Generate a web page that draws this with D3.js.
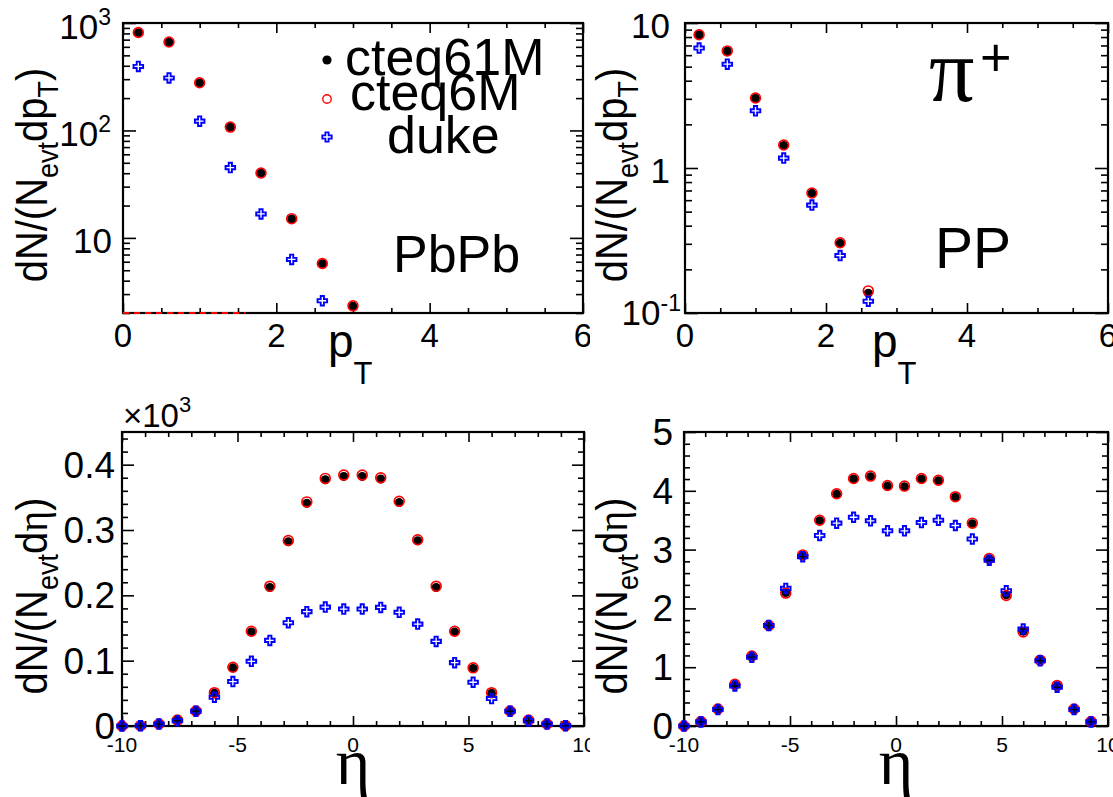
<!DOCTYPE html>
<html><head><meta charset="utf-8">
<script src="https://cdn.jsdelivr.net/npm/d3@7"></script>
<style>
body{margin:0;background:#fff;}
svg{display:block;font-family:"Liberation Sans",Arial,Helvetica,sans-serif;}
</style></head><body>
<svg id="c" width="1113" height="797"></svg>
<script>
// ---------------- data ----------------
const ptBins = [0.2, 0.6, 1.0, 1.4, 1.8, 2.2, 2.6, 3.0];
const pbpbPt_cteq61M = [813, 662, 277, 107, 40, 15.0, 5.74, 2.31];
const pbpbPt_cteq6M  = [815, 665, 278, 107.5, 40.2, 15.1, 5.78, 2.33];
const pbpbPt_duke    = [394, 308, 122, 45.1, 16.7, 6.3, 2.6, null];
const ppPt_cteq61M   = [8.3, 6.4, 3.03, 1.43, 0.669, 0.303, 0.137, null];
const ppPt_cteq6M    = [8.3, 6.42, 3.04, 1.44, 0.672, 0.305, 0.142, null];
const ppPt_duke      = [6.72, 5.2, 2.48, 1.17, 0.555, 0.249, 0.1205, null];

const etaBins = [-10, -9.2, -8.4, -7.6, -6.8, -6.0, -5.2, -4.4, -3.6, -2.8, -2.0, -1.2, -0.4,
                 0.4, 1.2, 2.0, 2.8, 3.6, 4.4, 5.2, 6.0, 6.8, 7.6, 8.4, 9.2];
// PbPb values in units of 10^3
const pbpbEta_cteq61M = [0, 0.0005, 0.003, 0.009, 0.023, 0.050, 0.089, 0.144, 0.212, 0.282, 0.341, 0.377, 0.382,
                         0.382, 0.378, 0.342, 0.2835, 0.212, 0.144, 0.088, 0.050, 0.0226, 0.009, 0.003, 0.0005];
const pbpbEta_cteq6M  = [0, 0.0005, 0.003, 0.009, 0.023, 0.051, 0.090, 0.145, 0.214, 0.284, 0.343, 0.379, 0.384,
                         0.384, 0.380, 0.344, 0.285, 0.214, 0.145, 0.089, 0.051, 0.023, 0.009, 0.003, 0.0005];
const pbpbEta_duke    = [0, 0.0003, 0.003, 0.008, 0.0226, 0.044, 0.068, 0.099, 0.131, 0.158, 0.175, 0.182, 0.179,
                         0.179, 0.1815, 0.174, 0.156, 0.1295, 0.097, 0.067, 0.042, 0.0226, 0.008, 0.003, 0.0003];
const ppEta_cteq61M   = [0, 0.074, 0.28, 0.70, 1.18, 1.70, 2.27, 2.90, 3.49, 3.94, 4.20, 4.24, 4.08,
                         4.07, 4.20, 4.17, 3.89, 3.44, 2.84, 2.23, 1.61, 1.13, 0.68, 0.28, 0.074];
const ppEta_cteq6M    = [0, 0.076, 0.29, 0.71, 1.19, 1.71, 2.26, 2.91, 3.50, 3.95, 4.21, 4.25, 4.09,
                         4.08, 4.21, 4.18, 3.90, 3.45, 2.85, 2.22, 1.60, 1.12, 0.69, 0.29, 0.076];
const ppEta_duke      = [0, 0.07, 0.28, 0.68, 1.17, 1.71, 2.34, 2.88, 3.24, 3.45, 3.55, 3.49, 3.32,
                         3.32, 3.46, 3.50, 3.41, 3.18, 2.82, 2.30, 1.65, 1.11, 0.66, 0.28, 0.07];

// reference dashed line in PbPb pT panel (x range)
const pbpbDashX = [0, 1.6];

// tick values / labels
const ptMajor = [0, 2, 4, 6];
const ptMinor = [0.5, 1, 1.5, 2.5, 3, 3.5, 4.5, 5, 5.5];
const ptLabels = ["0", "2", "4", "6"];
const etaMajor = [-10, -5, 0, 5, 10];
const etaMinor = [-9,-8,-7,-6,-4,-3,-2,-1,1,2,3,4,6,7,8,9];
const etaLabels = ["-10", "-5", "0", "5", "10"];
const pbpbPtMajor = [10, 100, 1000];
const ppPtMajor = [0.1, 1, 10];
const pbpbEtaMajor = [0, 0.1, 0.2, 0.3, 0.4];
const pbpbEtaLabels = ["0", "0.1", "0.2", "0.3", "0.4"];
const ppEtaMajor = [0, 1, 2, 3, 4, 5];
const ppEtaLabels = ["0", "1", "2", "3", "4", "5"];
const legendNames = ["cteq61M", "cteq6M", "duke"];

// ---------------- drawing ----------------
const svg = d3.select('#c');
const defs = svg.append('defs');
defs.append('clipPath').attr('id','leftCol').append('rect').attr('x',0).attr('y',0).attr('width',590).attr('height',797);

function logMinor(domain){
  const out=[];
  for(let e=-3;e<=4;e++) for(let m=2;m<=9;m++){ const v=m*Math.pow(10,e); if(v>=domain[0]*0.999 && v<=domain[1]*1.001) out.push(v);}
  return out;
}
function plusPath(e,a){
  return `M${-a},${-e}H${a}V${-a}H${e}V${a}H${a}V${e}H${-a}V${a}H${-e}V${-a}H${-a}Z`;
}
function addText(g,x,y,size,anchor,spans,family){
  const t=g.append('text').attr('x',x).attr('y',y).attr('font-size',size).attr('text-anchor',anchor||'start').attr('fill','#000');
  if(family) t.attr('font-family',family);
  spans.forEach(s=>{
    const ts=t.append('tspan').text(s.t);
    if(s.size) ts.attr('font-size',s.size);
    if(s.dy) ts.attr('dy',s.dy);
    if(s.family) ts.attr('font-family',s.family);
  });
  return t;
}

function panel(cfg){
  const g = svg.append('g');
  if(cfg.clip) g.attr('clip-path','url(#'+cfg.clip+')');
  const x = d3.scaleLinear().domain(cfg.xDomain).range([cfg.x0,cfg.x1]);
  const y = (cfg.log?d3.scaleLog():d3.scaleLinear()).domain(cfg.yDomain).range([cfg.y1,cfg.y0]);
  const ax = g.append('g').attr('class','ticks');
  [[cfg.xMajor, cfg.xMajLen],[cfg.xMinor, cfg.xMinLen]].forEach(([vals,len])=>{
    ax.append('g').attr('transform',`translate(0,${cfg.y1})`).call(d3.axisBottom(x).tickValues(vals).tickSize(-len).tickSizeOuter(0).tickFormat(''));
    ax.append('g').attr('transform',`translate(0,${cfg.y0})`).call(d3.axisTop(x).tickValues(vals).tickSize(-len).tickSizeOuter(0).tickFormat(''));
  });
  [[cfg.yMajor,cfg.yMajLen],[cfg.yMinor,cfg.yMinLen]].forEach(([vals,len])=>{
    ax.append('g').attr('transform',`translate(${cfg.x0},0)`).call(d3.axisLeft(y).tickValues(vals).tickSize(-len).tickSizeOuter(0).tickFormat(''));
    ax.append('g').attr('transform',`translate(${cfg.x1},0)`).call(d3.axisRight(y).tickValues(vals).tickSize(-len).tickSizeOuter(0).tickFormat(''));
  });
  ax.selectAll('.domain').remove();
  ax.selectAll('line').attr('stroke','#000').attr('stroke-width',1.6);
  g.append('rect').attr('x',cfg.x0).attr('y',cfg.y0).attr('width',cfg.x1-cfg.x0).attr('height',cfg.y1-cfg.y0)
    .attr('fill','none').attr('stroke','#000').attr('stroke-width',2.2);

  if(cfg.extra) cfg.extra(g,x,y);

  const pts = (vals)=>cfg.xs.map((xv,i)=>({x:xv,v:vals[i]})).filter(d=>d.v!=null && d.v>=cfg.yDomain[0]*0.98);
  g.append('g').selectAll('circle').data(pts(cfg.s1)).join('circle')
    .attr('cx',d=>x(d.x)).attr('cy',d=>y(d.v)).attr('r',4.5).attr('fill','#000');
  g.append('g').selectAll('circle').data(pts(cfg.s2)).join('circle')
    .attr('cx',d=>x(d.x)).attr('cy',d=>y(d.v)).attr('r',4.9).attr('fill','none').attr('stroke','#f00').attr('stroke-width',1.7);
  g.append('g').selectAll('path').data(pts(cfg.s3)).join('path')
    .attr('transform',d=>`translate(${x(d.x)},${y(d.v)})`).attr('d',plusPath(4.8,1.6))
    .attr('fill','none').attr('stroke','#00f').attr('stroke-width',1.9);

  cfg.labels(g,x,y);
  return {g,x,y};
}

const sup=(t,s,d)=>({t:t,size:s,dy:d});
function yLabel(g,bx,cy,spans){
  addText(g.append('g').attr('transform',`translate(${bx},${cy}) rotate(-90) scale(1,1.12)`),0,0,40,'middle',spans);
}
const ptYSpans=[{t:'dN/(N'},{t:'evt',size:27,dy:10},{t:'dp',dy:-10},{t:'T',size:27,dy:10},{t:')',dy:-10}];
const etaYSpans=[{t:'dN/(N'},{t:'evt',size:27,dy:10},{t:'d',dy:-10},{t:'η',family:'"Liberation Serif",serif'},{t:')'}];
const serif='"Liberation Serif","Times New Roman",serif';

// Top-left: PbPb pT
panel({
  clip:'leftCol', x0:123, x1:583, y0:23, y1:313, xDomain:[0,6], yDomain:[2,1000], log:true,
  xMajor:ptMajor, xMinor:ptMinor, xMajLen:10, xMinLen:5,
  yMajor:pbpbPtMajor, yMinor:logMinor([2,1000]), yMajLen:13, yMinLen:7,
  xs:ptBins, s1:pbpbPt_cteq61M, s2:pbpbPt_cteq6M, s3:pbpbPt_duke,
  extra:(g,x,y)=>{
    g.append('line').attr('x1',x(pbpbDashX[0])).attr('x2',x(pbpbDashX[1])).attr('y1',y(2)).attr('y2',y(2))
      .attr('stroke','#f00').attr('stroke-width',2).attr('stroke-dasharray','6,5');
  },
  labels:(g,x,y)=>{
    addText(g,111,y(1000)+16,35,'end',[{t:'10'},sup('3',23,-14)]);
    addText(g,111,y(100)+16,35,'end',[{t:'10'},sup('2',23,-14)]);
    addText(g,112,y(10)+15,35,'end',[{t:'10'}]);
    ptMajor.forEach((v,i)=>addText(g,x(v),347,33,'middle',[{t:ptLabels[i]}]));
    addText(g,328,357,46,'start',[{t:'p'},{t:'T',size:31,dy:27}]);
    addText(g,393,272,52,'start',[{t:'PbPb'}]);
    yLabel(g,47,175,ptYSpans);
    const lx=327;
    g.append('circle').attr('cx',lx).attr('cy',60).attr('r',4.6).attr('fill','#000');
    g.append('circle').attr('cx',lx).attr('cy',99).attr('r',4.2).attr('fill','none').attr('stroke','#f00').attr('stroke-width',1.4);
    g.append('path').attr('transform',`translate(${lx},137)`).attr('d',plusPath(4.7,1.6)).attr('fill','none').attr('stroke','#00f').attr('stroke-width',1.8);
    addText(g,345,75,52,'start',[{t:legendNames[0]}]);
    addText(g,350,110,52,'start',[{t:legendNames[1]}]);
    addText(g,387,153,52,'start',[{t:legendNames[2]}]);
  }
});

// Top-right: PP pT
panel({
  x0:685, x1:1108, y0:23, y1:313, xDomain:[0,6], yDomain:[0.1,10], log:true,
  xMajor:ptMajor, xMinor:ptMinor, xMajLen:10, xMinLen:5,
  yMajor:ppPtMajor, yMinor:logMinor([0.1,10]), yMajLen:13, yMinLen:7,
  xs:ptBins, s1:ppPt_cteq61M, s2:ppPt_cteq6M, s3:ppPt_duke,
  labels:(g,x,y)=>{
    addText(g,670,y(10)+15,35,'end',[{t:'10'}]);
    addText(g,670,y(1)+15,35,'end',[{t:'1'}]);
    addText(g,681,y(0.1)+12,35,'end',[{t:'10'},sup('-1',23,-14)]);
    ptMajor.forEach((v,i)=>addText(g,x(v),347,33,'middle',[{t:ptLabels[i]}]));
    addText(g,872,357,46,'start',[{t:'p'},{t:'T',size:31,dy:27}]);
    addText(g,935,268,57,'start',[{t:'PP'}]);
    addText(g,929,101,90,'start',[{t:'π'}],serif);
    addText(g,980,76,54,'start',[{t:'+'}]);
    yLabel(g,627,175,ptYSpans);
  }
});

// Bottom-left: PbPb eta
panel({
  clip:'leftCol', x0:122, x1:584, y0:432, y1:726, xDomain:[-10,10], yDomain:[0,0.45], log:false,
  xMajor:etaMajor, xMinor:etaMinor, xMajLen:10, xMinLen:5,
  yMajor:pbpbEtaMajor, yMinor:[0.02,0.04,0.06,0.08,0.12,0.14,0.16,0.18,0.22,0.24,0.26,0.28,0.32,0.34,0.36,0.38,0.42,0.44], yMajLen:12, yMinLen:6,
  xs:etaBins, s1:pbpbEta_cteq61M, s2:pbpbEta_cteq6M, s3:pbpbEta_duke,
  labels:(g,x,y)=>{
    pbpbEtaMajor.forEach((v,i)=>addText(g,115,y(v)+13,37,'end',[{t:pbpbEtaLabels[i]}]));
    etaMajor.forEach((v,i)=>addText(g,x(v),752,21,'middle',[{t:etaLabels[i]}]));
    addText(g,x(0),784,66,'middle',[{t:'η'}],serif);
    addText(g,123,427,33,'start',[{t:'×10'},sup('3',22,-15)]);
    yLabel(g,47,596,etaYSpans);
  }
});

// Bottom-right: PP eta
panel({
  x0:684, x1:1108, y0:432, y1:726, xDomain:[-10,10], yDomain:[0,5], log:false,
  xMajor:etaMajor, xMinor:etaMinor, xMajLen:10, xMinLen:5,
  yMajor:ppEtaMajor, yMinor:[0.2,0.4,0.6,0.8,1.2,1.4,1.6,1.8,2.2,2.4,2.6,2.8,3.2,3.4,3.6,3.8,4.2,4.4,4.6,4.8], yMajLen:12, yMinLen:6,
  xs:etaBins, s1:ppEta_cteq61M, s2:ppEta_cteq6M, s3:ppEta_duke,
  labels:(g,x,y)=>{
    ppEtaMajor.forEach((v,i)=>addText(g,673,y(v)+13,37,'end',[{t:ppEtaLabels[i]}]));
    etaMajor.forEach((v,i)=>addText(g,x(v),752,21,'middle',[{t:etaLabels[i]}]));
    addText(g,x(0),784,66,'middle',[{t:'η'}],serif);
    yLabel(g,627,596,etaYSpans);
  }
});
</script>
</body></html>
